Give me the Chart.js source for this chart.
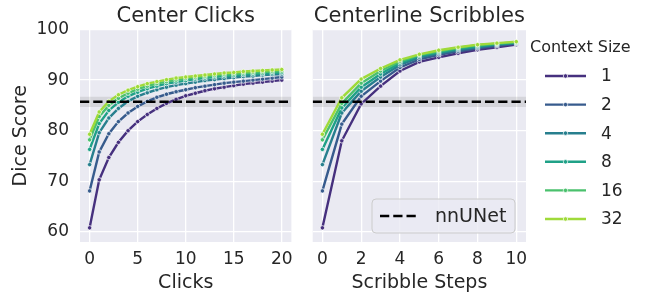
<!DOCTYPE html>
<html>
<head>
<meta charset="utf-8">
<script src="https://cdn.jsdelivr.net/npm/chart.js@4.4.1/dist/chart.umd.min.js"></script>
<style>
    html, body { margin: 0; padding: 0; background: #ffffff; }
    #wrap { position: relative; width: 654px; height: 294px; }
    .panel { position: absolute; top: 0; height: 294px; }
    #left  { left: 0;     width: 300px; }
    #right { left: 300px; width: 354px; }
</style>
</head>
<body>
<div id="wrap">
    <div class="panel" id="left"><canvas id="chart-clicks"></canvas></div>
    <div class="panel" id="right"><canvas id="chart-scribbles"></canvas></div>
</div>
<script>
// ===================== DATA =====================

const contextSizes = ['1', '2', '4', '8', '16', '32'];

const clickSteps = [0, 1, 2, 3, 4, 5, 6, 7, 8, 9, 10, 11, 12, 13, 14, 15, 16, 17, 18, 19, 20];
const clicks1  = [60.8, 70.3, 74.7, 77.7, 80.0, 81.8, 83.2, 84.4, 85.4, 86.2, 86.9, 87.4, 87.9, 88.3, 88.6, 88.9, 89.2, 89.4, 89.6, 89.8, 90.0];
const clicks2  = [68.1, 75.8, 79.4, 81.8, 83.5, 84.8, 85.8, 86.6, 87.2, 87.7, 88.1, 88.5, 88.8, 89.1, 89.4, 89.6, 89.8, 90.0, 90.2, 90.4, 90.6];
const clicks4  = [73.3, 79.6, 82.5, 84.4, 85.8, 86.8, 87.5, 88.1, 88.6, 89.0, 89.3, 89.6, 89.9, 90.1, 90.3, 90.5, 90.7, 90.8, 91.0, 91.1, 91.2];
const clicks8  = [76.3, 81.4, 84.0, 85.6, 86.8, 87.6, 88.3, 88.8, 89.3, 89.6, 89.9, 90.2, 90.4, 90.6, 90.8, 90.9, 91.1, 91.2, 91.3, 91.4, 91.5];
const clicks16 = [78.2, 82.8, 85.0, 86.4, 87.4, 88.2, 88.8, 89.3, 89.7, 90.0, 90.3, 90.5, 90.7, 90.9, 91.1, 91.2, 91.4, 91.5, 91.6, 91.7, 91.8];
const clicks32 = [79.3, 83.7, 85.8, 87.1, 88.0, 88.7, 89.3, 89.7, 90.1, 90.4, 90.6, 90.8, 91.0, 91.2, 91.4, 91.5, 91.7, 91.8, 91.9, 92.0, 92.1];

const scribbleSteps = [0, 1, 2, 3, 4, 5, 6, 7, 8, 9, 10];
const scribble1  = [60.8, 78.0, 85.3, 88.8, 91.8, 93.6, 94.5, 95.3, 96.0, 96.5, 97.0];
const scribble2  = [68.1, 81.3, 86.8, 89.8, 92.5, 94.1, 95.0, 95.7, 96.3, 96.8, 97.2];
const scribble4  = [73.3, 83.5, 87.8, 90.6, 93.0, 94.5, 95.3, 96.0, 96.5, 97.0, 97.3];
const scribble8  = [76.3, 84.5, 88.6, 91.2, 93.4, 94.8, 95.5, 96.2, 96.7, 97.1, 97.4];
const scribble16 = [78.2, 85.4, 89.4, 91.8, 93.7, 95.0, 95.7, 96.4, 96.9, 97.2, 97.5];
const scribble32 = [79.3, 86.5, 90.2, 92.3, 94.0, 95.1, 95.9, 96.5, 97.0, 97.3, 97.6];

const nnunetMean = 85.7;
const nnunetLow  = 84.7;
const nnunetHigh = 86.7;

const diceTicks     = [60, 70, 80, 90, 100];
const clickTicks    = [0, 5, 10, 15, 20];
const scribbleTicks = [0, 2, 4, 6, 8, 10];

const seriesColors = ['#46307e', '#375b8d', '#277f8e', '#1fa187', '#4ac16d', '#9fda3a'];

// ===================== HELPERS =====================

const FONT = '"DejaVu Sans", sans-serif';
const TEXT = '#262626';

function lineDatasets(steps, seriesList) {
    return seriesList.map((vals, i) => ({
        label: contextSizes[i],
        data: steps.map((s, j) => ({ x: s, y: vals[j] })),
        borderColor: seriesColors[i],
        backgroundColor: seriesColors[i],
        pointBackgroundColor: seriesColors[i],
        pointBorderColor: '#ffffff',
        pointBorderWidth: 0.7,
        pointRadius: 2.2,
        borderWidth: 2.4,
        tension: 0,
        order: 6 - i
    }));
}

function nnunetDatasets(xMin, xMax) {
    return [
        { label: 'low',  data: [{ x: xMin, y: nnunetLow },  { x: xMax, y: nnunetLow }],
          borderWidth: 0, pointRadius: 0, fill: false, order: 20 },
        { label: 'high', data: [{ x: xMin, y: nnunetHigh }, { x: xMax, y: nnunetHigh }],
          borderWidth: 0, pointRadius: 0, fill: '-1', backgroundColor: 'rgba(128,128,128,0.2)', order: 20 },
        { label: 'nnUNet', data: [{ x: xMin, y: nnunetMean }, { x: xMax, y: nnunetMean }],
          borderColor: '#000000', borderWidth: 2.5, borderDash: [9.25, 4], pointRadius: 0, order: 0 }
    ];
}

const plotBackground = {
    id: 'plotBackground',
    beforeDraw(chart) {
        const { ctx, chartArea: a } = chart;
        ctx.save();
        ctx.fillStyle = '#eaeaf2';
        ctx.fillRect(a.left, a.top, a.width, a.height);
        ctx.restore();
    }
};

const nnunetLegend = {
    id: 'nnunetLegend',
    afterDraw(chart) {
        const { ctx, chartArea: a } = chart;
        const w = 143, h = 34;
        const x = a.right - 11 - w, y = a.bottom - 9 - h;
        ctx.save();
        ctx.beginPath();
        ctx.roundRect(x, y, w, h, 4);
        ctx.fillStyle = 'rgba(234,234,242,0.8)';
        ctx.fill();
        ctx.strokeStyle = '#cccccc';
        ctx.lineWidth = 1;
        ctx.stroke();
        ctx.beginPath();
        ctx.setLineDash([9.25, 4]);
        ctx.lineWidth = 2.5;
        ctx.strokeStyle = '#000000';
        ctx.moveTo(x + 8, y + h / 2);
        ctx.lineTo(x + 46, y + h / 2);
        ctx.stroke();
        ctx.setLineDash([]);
        ctx.fillStyle = TEXT;
        ctx.font = '19px ' + FONT;
        ctx.textBaseline = 'middle';
        ctx.fillText('nnUNet', x + 63, y + h / 2 + 1);
        ctx.restore();
    }
};

const contextLegend = {
    id: 'contextLegend',
    afterDraw(chart) {
        const ctx = chart.ctx;
        ctx.save();
        ctx.fillStyle = TEXT;
        ctx.textBaseline = 'middle';
        ctx.font = '16px ' + FONT;
        ctx.fillText('Context Size', 230, 48);
        ctx.font = '17px ' + FONT;
        contextSizes.forEach((label, i) => {
            const y = 76 + i * 28.6;
            ctx.beginPath();
            ctx.strokeStyle = seriesColors[i];
            ctx.lineWidth = 2.4;
            ctx.moveTo(245, y);
            ctx.lineTo(286, y);
            ctx.stroke();
            ctx.beginPath();
            ctx.arc(265.5, y, 2.2, 0, Math.PI * 2);
            ctx.fillStyle = seriesColors[i];
            ctx.fill();
            ctx.lineWidth = 0.7;
            ctx.strokeStyle = '#ffffff';
            ctx.stroke();
            ctx.fillStyle = TEXT;
            ctx.fillText(label, 301, y + 1);
        });
        ctx.restore();
    }
};

function baseOptions(title, xMin, xMax, xTicks, xTitle, showY, padRight) {
    return {
        responsive: true,
        maintainAspectRatio: false,
        animation: false,
        devicePixelRatio: 1,
        layout: { padding: { left: 0, right: padRight, top: 0, bottom: 0 } },
        plugins: {
            legend: { display: false },
            tooltip: { enabled: false },
            title: {
                display: true,
                text: title,
                fullSize: false,
                color: TEXT,
                font: { family: FONT, size: 21, weight: 'normal' },
                padding: { top: 4, bottom: 0.3 }
            }
        },
        scales: {
            x: {
                type: 'linear',
                min: xMin,
                max: xMax,
                afterBuildTicks: s => { s.ticks = xTicks.map(v => ({ value: v })); },
                afterFit: s => { s.height = 52; },
                ticks: { color: TEXT, font: { family: FONT, size: 17 }, padding: 7, maxRotation: 0, autoSkip: false },
                grid: { color: '#ffffff', lineWidth: 1.3, drawTicks: false },
                border: { display: false },
                title: { display: true, text: xTitle, color: TEXT, font: { family: FONT, size: 19 }, padding: 0 }
            },
            y: {
                type: 'linear',
                min: 58,
                max: 100,
                afterBuildTicks: s => { s.ticks = diceTicks.map(v => ({ value: v })); },
                afterFit: s => { s.width = showY ? 80 : 12.7; },
                ticks: { display: showY, color: TEXT, font: { family: FONT, size: 17 }, padding: 11 },
                grid: { color: '#ffffff', lineWidth: 1.3, drawTicks: false },
                border: { display: false },
                title: { display: showY, text: 'Dice Score', color: TEXT, font: { family: FONT, size: 19 }, padding: { top: 10, bottom: 0 } }
            }
        }
    };
}

// ===================== CHARTS =====================

new Chart(document.getElementById('chart-clicks'), {
    type: 'line',
    data: {
        datasets: [
            ...nnunetDatasets(-1, 21),
            ...lineDatasets(clickSteps, [clicks1, clicks2, clicks4, clicks8, clicks16, clicks32])
        ]
    },
    options: baseOptions('Center Clicks', -1, 21, clickTicks, 'Clicks', true, 7),
    plugins: [plotBackground]
});

new Chart(document.getElementById('chart-scribbles'), {
    type: 'line',
    data: {
        datasets: [
            ...nnunetDatasets(-0.5, 10.5),
            ...lineDatasets(scribbleSteps, [scribble1, scribble2, scribble4, scribble8, scribble16, scribble32])
        ]
    },
    options: baseOptions('Centerline Scribbles', -0.5, 10.5, scribbleTicks, 'Scribble Steps', false, 128),
    plugins: [plotBackground, nnunetLegend, contextLegend]
});
</script>
</body>
</html>
